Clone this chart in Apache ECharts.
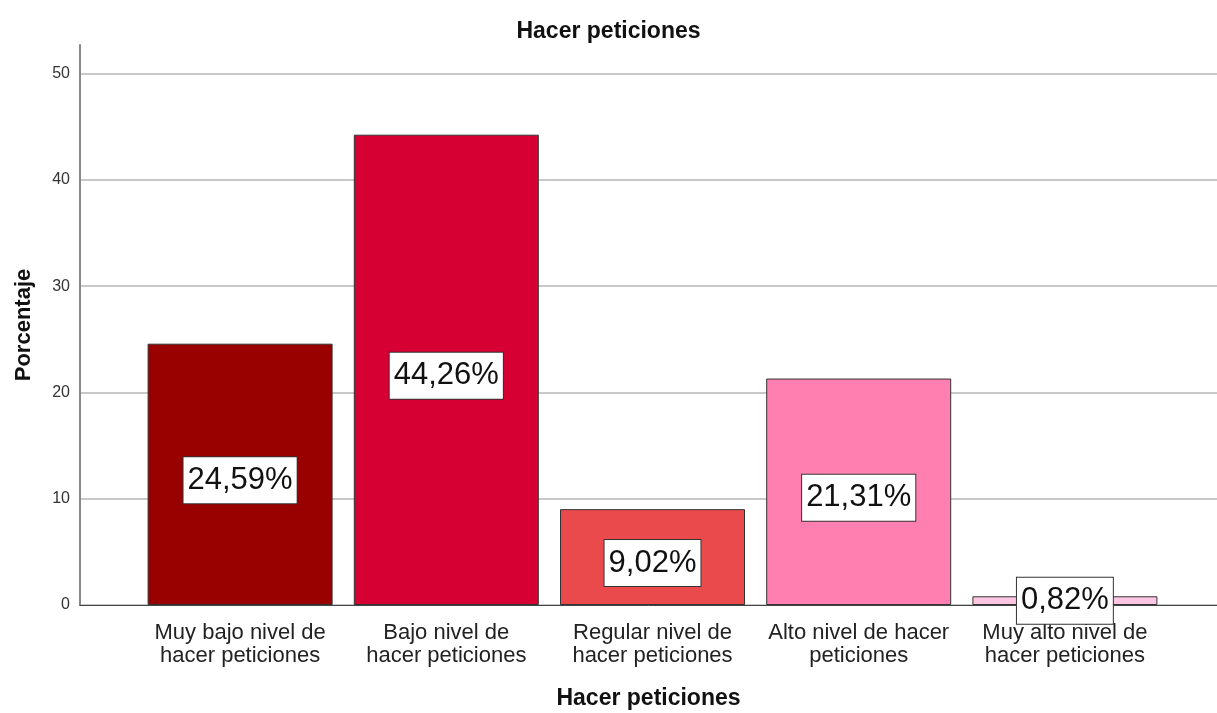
<!DOCTYPE html>
<html>
<head>
<meta charset="utf-8">
<title>Hacer peticiones</title>
<script src="https://cdn.jsdelivr.net/npm/echarts@6/dist/echarts.min.js"></script>
<style>
    html, body { margin: 0; padding: 0; background: #fff; }
    #grafico { width: 1217px; height: 713px; }
</style>
</head>
<body>
<div id="grafico"></div>
<script>
var categorias = ['Muy bajo nivel de\nhacer peticiones', 'Bajo nivel de\nhacer peticiones', 'Regular nivel de\nhacer peticiones', 'Alto nivel de hacer\npeticiones', 'Muy alto nivel de\nhacer peticiones'];
var porcentajes = [24.59, 44.26, 9.02, 21.31, 0.82];
var colores = ['#990000', '#d70033', '#eb4a4c', '#ff80b0', '#ffc6e2'];
var ticksY = [0, 10, 20, 30, 40, 50];

var fuente = 'Liberation Sans, Arial, sans-serif';
var yMax = 52.7;

var chart = echarts.init(document.getElementById('grafico'));

var option = {
    animation: false,
    title: {
        text: 'Hacer peticiones',
        left: 'center',
        top: 15,
        textStyle: { fontFamily: fuente, fontSize: 23, fontWeight: 'bold', color: '#111' }
    },
    grid: [
        // grid del eje y (lineas de fondo)
        { left: 80, right: 0, top: 45, bottom: 108, outerBoundsMode: 'none', containLabel: false },
        // grid de las barras
        { left: 137, right: 49, top: 45, bottom: 108, outerBoundsMode: 'none', containLabel: false }
    ],
    xAxis: [
        {
            gridIndex: 0,
            type: 'value',
            min: 0, max: 1,
            axisLine: { show: true, onZero: false, lineStyle: { color: '#444', width: 1 } },
            axisTick: { show: false },
            axisLabel: { show: false },
            splitLine: { show: false },
            name: 'Hacer peticiones',
            nameLocation: 'middle',
            nameGap: 82,
            nameTextStyle: { fontFamily: fuente, fontSize: 23, fontWeight: 'bold', color: '#111' }
        },
        {
            gridIndex: 1,
            type: 'category',
            data: categorias,
            axisLine: { show: false },
            axisTick: { show: false },
            axisLabel: {
                margin: 16,
                fontFamily: fuente,
                fontSize: 22,
                lineHeight: 23,
                color: '#222',
                interval: 0
            }
        }
    ],
    yAxis: [
        {
            gridIndex: 0,
            type: 'value',
            min: 0,
            max: yMax,
            interval: 10,
            axisLine: { show: true, lineStyle: { color: '#888', width: 2 } },
            axisTick: { show: false },
            axisLabel: {
                showMaxLabel: false,
                margin: 10,
                fontFamily: fuente,
                fontSize: 16,
                color: '#333',
                formatter: function (v) { return ticksY.indexOf(v) >= 0 ? v : ''; }
            },
            splitLine: { show: true, showMaxLine: false, lineStyle: { color: '#c8c8c8', width: 2 } },
            name: 'Porcentaje',
            nameLocation: 'middle',
            nameGap: 45,
            nameTextStyle: { fontFamily: fuente, fontSize: 22, fontWeight: 'bold', color: '#111' }
        },
        {
            gridIndex: 1,
            type: 'value',
            min: 0,
            max: yMax,
            show: false
        }
    ],
    series: [
        {
            type: 'bar',
            xAxisIndex: 1,
            yAxisIndex: 1,
            barWidth: 185,
            data: porcentajes.map(function (v, i) {
                var item = { value: v, itemStyle: { color: colores[i] } };
                // la etiqueta de la barra muy baja queda centrada sobre la barra
                if (v < 2) item.label = { offset: [0, 0] };
                return item;
            }),
            itemStyle: { borderColor: '#333', borderWidth: 1 },
            label: {
                show: true,
                position: 'inside',
                offset: [0, 6],
                formatter: function (p) { return p.value.toFixed(2).replace('.', ',') + '%'; },
                fontFamily: fuente,
                fontSize: 31,
                lineHeight: 34,
                color: '#111',
                backgroundColor: '#fff',
                borderColor: '#333',
                borderWidth: 1,
                padding: [6, 4, 6, 4]
            }
        }
    ]
};

chart.setOption(option);
</script>
</body>
</html>
